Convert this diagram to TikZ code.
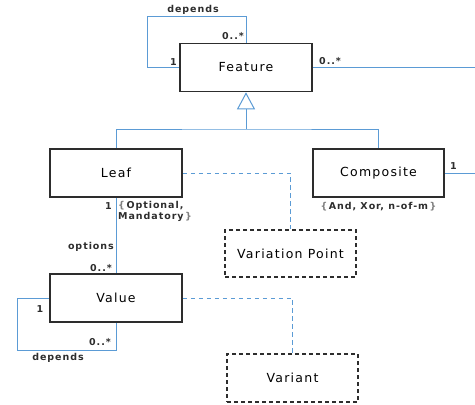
\documentclass[tikz,border=0pt]{standalone}
\usepackage{fontspec}
\setmainfont{DejaVu Sans}[LetterSpace=10]
\usepackage{xcolor}
\usepackage{tikz}
\usetikzlibrary{arrows.meta}

\definecolor{umlblue}{RGB}{91,155,213}
\definecolor{boxgray}{RGB}{45,45,45}

\begin{document}
\begin{tikzpicture}
            [x=1pt, y=-1pt,
            class/.style={draw=boxgray, line width=1.6pt, rectangle, minimum width=132pt, minimum height=48pt, inner sep=0pt, font=\fontsize{12.5}{14}\selectfont},
            variation/.style={class, dashed, dash pattern=on 4pt off 3pt},
            assoc/.style={draw=umlblue, line width=1pt},
            realize/.style={assoc, dashed, dash pattern=on 4.5pt off 3.5pt},
            lbl/.style={font=\fontsize{9.5}{11.5}\selectfont\bfseries, text=boxgray, inner sep=1pt}]

            \useasboundingbox (0,0) rectangle (475,405);

            % classes
            \node[class] (feature) at (246,67.5) {Feature};
            \node[class] (leaf) at (116,173) {Leaf};
            \node[class, minimum width=131pt] (composite) at (378.5,173) {Composite};
            \node[class] (value) at (116,298) {Value};
            \node[variation, minimum width=131pt, minimum height=47pt] (vpoint) at (290.5,253.5) {Variation Point};
            \node[variation, minimum width=131pt] (variant) at (292.5,378) {Variant};

            % helper points
            \coordinate (fdep) at (147,16);
            \coordinate (vdep) at (17,350);
            \coordinate (hub) at (246,129);
            \coordinate (fout) at (475,67.5);
            \coordinate (cout) at (475,173);

            % associations
            \draw[assoc] (feature.north) |- (fdep) |- (feature.west);
            \draw[assoc] (feature.east) -- (fout);
            \draw[assoc] (composite.east) -- (cout);
            \draw[assoc] (leaf.south) -- (value.north);
            \draw[assoc] (value.west) -| (vdep) -| (value.south);

            % generalization
            \draw[assoc] (leaf.north) |- (hub) -| (composite.north);
            \draw[assoc, -{Triangle[open, width=18pt, length=17pt, fill=white]}] (hub) -- (feature.south);

            % realizations
            \draw[realize] (leaf.east) -| (vpoint.north);
            \draw[realize] (value.east) -| (variant.north);

            % labels
            \node[lbl] (fdeplbl) at (193,10) {depends};
            \node[lbl, anchor=south east] (fmany) at (245,41) {0..*};
            \node[lbl, anchor=south east] (fone) at (178,67) {1};
            \node[lbl, anchor=south west] (foutmany) at (318,66) {0..*};
            \node[lbl, anchor=south west] (cone) at (449,171) {1};
            \node[lbl, anchor=north east] (lone) at (113,201) {1};
            \node[lbl, anchor=north west, align=left] (lkind) at (117,200) {{\color{gray}\{}\,Optional,\\Mandatory\,{\color{gray}\}}};
            \node[lbl, anchor=east] (optlbl) at (115,247) {options};
            \node[lbl, anchor=south east] (vmany) at (113,273) {0..*};
            \node[lbl, anchor=north] (ckind) at (378.5,201) {{\color{gray}\{}\,And, Xor, n-of-m\,{\color{gray}\}}};
            \node[lbl] (vone) at (40,309) {1};
            \node[lbl, anchor=south east] (vdepmany) at (112,347) {0..*};
            \node[lbl] (vdeplbl) at (58,358) {depends};
        \end{tikzpicture}
\end{document}
